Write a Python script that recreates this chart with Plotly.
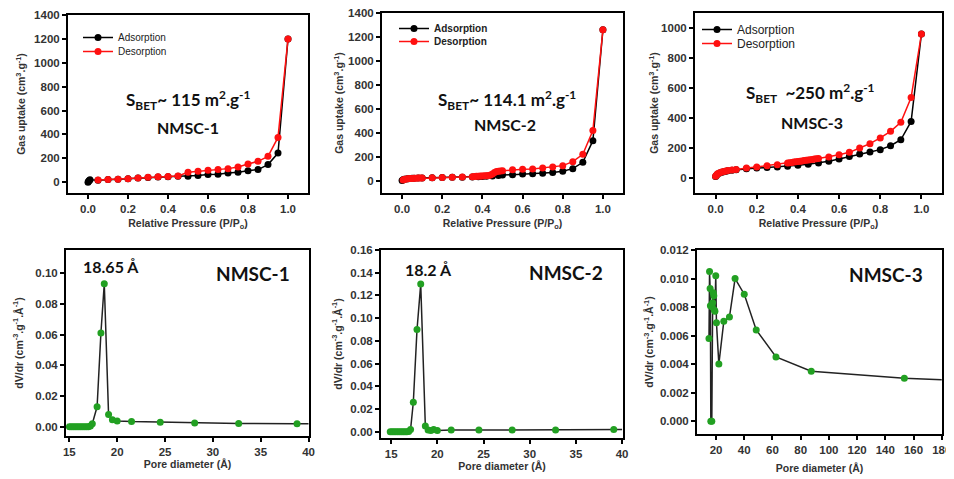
import plotly.graph_objects as go

# ---------------- data ----------------
# NMSC-1 isotherm
p1_ads_x = [0.0, 0.003, 0.006, 0.01, 0.05, 0.1, 0.15, 0.2, 0.25, 0.3, 0.35, 0.4, 0.45, 0.5, 0.55, 0.6, 0.65, 0.7, 0.75, 0.8, 0.85, 0.9, 0.95, 1.0]
p1_ads_y = [0, 8, 15, 20, 17, 22, 26, 30, 36, 40, 44, 47, 50, 50, 56, 64, 67, 78, 83, 97, 106, 148, 244, 1200]
p1_des_x = [1.0, 0.95, 0.9, 0.85, 0.8, 0.75, 0.7, 0.65, 0.6, 0.55, 0.5, 0.45, 0.4, 0.35, 0.3, 0.25, 0.2, 0.15, 0.1, 0.05]
p1_des_y = [1200, 375, 217, 175, 153, 128, 114, 106, 100, 92, 83, 53, 48, 45, 42, 36, 30, 26, 22, 19]

# NMSC-2 isotherm
p2_ads_x = [0.0, 0.005, 0.01, 0.02, 0.03, 0.04, 0.05, 0.06, 0.08, 0.1, 0.15, 0.2, 0.25, 0.3, 0.35, 0.38, 0.4, 0.42, 0.45, 0.48, 0.5, 0.55, 0.6, 0.65, 0.7, 0.75, 0.8, 0.85, 0.9, 0.95, 1.0]
p2_ads_y = [5, 10, 14, 17, 19, 21, 22, 23, 24, 25, 27, 29, 31, 32, 34, 36, 38, 40, 42, 46, 50, 53, 58, 61, 64, 70, 81, 103, 156, 336, 1260]
p2_des_x = [1.0, 0.95, 0.9, 0.85, 0.8, 0.75, 0.7, 0.65, 0.6, 0.55, 0.5, 0.49, 0.48, 0.47, 0.46, 0.45, 0.44, 0.43, 0.42, 0.41, 0.4, 0.39, 0.38, 0.37, 0.36, 0.35, 0.3, 0.25, 0.2, 0.15, 0.1, 0.09, 0.08, 0.07, 0.06, 0.05, 0.04, 0.03, 0.02, 0.01, 0.005]
p2_des_y = [1260, 420, 222, 161, 128, 117, 108, 100, 97, 94, 85, 83, 82, 80, 70, 58, 50, 46, 44, 43, 42, 41, 40, 39, 38, 36, 33, 31, 29, 27, 25, 24, 24, 23, 22, 21, 20, 18, 16, 13, 9]

# NMSC-3 isotherm
p3_ads_x = [0.0, 0.005, 0.01, 0.02, 0.03, 0.04, 0.05, 0.06, 0.08, 0.1, 0.15, 0.2, 0.25, 0.3, 0.35, 0.4, 0.45, 0.5, 0.55, 0.6, 0.65, 0.7, 0.75, 0.8, 0.85, 0.9, 0.95, 1.0]
p3_ads_y = [10, 18, 26, 33, 38, 42, 45, 48, 52, 55, 61, 66, 70, 74, 79, 85, 92, 100, 111, 127, 144, 160, 173, 189, 215, 255, 377, 960]
p3_des_x = [1.0, 0.95, 0.9, 0.85, 0.8, 0.75, 0.7, 0.65, 0.6, 0.55, 0.5, 0.49, 0.48, 0.47, 0.46, 0.45, 0.44, 0.43, 0.42, 0.41, 0.4, 0.39, 0.38, 0.37, 0.36, 0.35, 0.3, 0.25, 0.2, 0.15, 0.1, 0.08, 0.06, 0.05, 0.04, 0.03, 0.02, 0.01, 0.005, 0.0]
p3_des_y = [960, 537, 371, 311, 267, 229, 200, 171, 155, 140, 130, 128, 126, 124, 122, 120, 118, 116, 114, 112, 110, 108, 106, 104, 102, 100, 89, 82, 73, 66, 57, 54, 50, 47, 44, 40, 35, 28, 20, 12]

# Pore size distributions
d1_x = [15.0, 15.2, 15.4, 15.6, 15.8, 16.0, 16.2, 16.4, 16.6, 16.8, 17.0, 17.2, 17.4, 17.9, 18.3, 18.65, 19.1, 19.5, 20.0, 21.5, 24.5, 28.1, 32.7, 38.8]
d1_y = [0, 0, 0, 0, 0, 0, 0, 0, 0, 0, 0, 0.0005, 0.002, 0.013, 0.061, 0.093, 0.008, 0.0045, 0.0038, 0.0034, 0.003, 0.0025, 0.0022, 0.002]
d1_end = (40.0, 0.002)

d2_x = [14.9, 15.1, 15.3, 15.5, 15.7, 15.9, 16.1, 16.3, 16.5, 16.7, 16.9, 17.1, 17.4, 17.8, 18.2, 18.7, 19.0, 19.3, 19.6, 20.0, 21.5, 24.5, 28.1, 32.8, 39.1]
d2_y = [0, 0, 0, 0, 0, 0, 0, 0, 0, 0, 0.0003, 0.002, 0.026, 0.09, 0.13, 0.005, 0.0015, 0.001, 0.002, 0.001, 0.0015, 0.0015, 0.0015, 0.0015, 0.002]
d2_end = (40.0, 0.002)

d3_x = [15.0, 15.4, 15.8, 16.0, 16.3, 17.0, 17.3, 17.6, 18.0, 18.4, 18.8, 19.2, 19.8, 20.3, 22.0, 25.5, 29.5, 33.5, 40.0, 48.5, 62.5, 87.5, 153.5]
d3_y = [0.0058, 0.0105, 0.0093, 0.0081, 0.0, 0.0, 0.008, 0.0083, 0.009, 0.0088, 0.0078, 0.0077, 0.0102, 0.0069, 0.0040, 0.0070, 0.0073, 0.0100, 0.0089, 0.0064, 0.0045, 0.0035, 0.0030]
d3_end = (180.0, 0.0029)

iso_xticks = [0.0, 0.2, 0.4, 0.6, 0.8, 1.0]

# ---------------- figure ----------------
OFF = 8                      # page body margin of the browser
W, H = 954 - OFF, 479 - OFF
fig = go.Figure()

def px(v):
    return (v - OFF) / W

def py(v):
    return 1 - (v - OFF) / H

BLACK = "#000000"
RED = "#ff1010"
GREEN = "#22a022"
TICKFONT = dict(family="Liberation Sans, Arial", size=11.5, color="#333333", weight="bold")
TITLEFONT = dict(family="Liberation Sans, Arial", size=10.5, color="#333333", weight="bold")
ANNFONT = dict(family="Lato, Open Sans", color="#111111", weight="bold")

def style_axis(**kw):
    base = dict(showline=True, linecolor="black", linewidth=2, mirror=True,
                ticks="outside", ticklen=4, tickwidth=1.5, tickcolor="black",
                showgrid=False, zeroline=False, tickfont=TICKFONT,
                title_font=TITLEFONT, automargin=False, ticklabeloverflow="allow")
    base.update(kw)
    return base

# top row isotherms
iso = [
    (p1_ads_x, p1_ads_y, p1_des_x, p1_des_y, "x", "y", "legend", "legend2"),
    (p2_ads_x, p2_ads_y, p2_des_x, p2_des_y, "x2", "y2", "legend3", "legend4"),
    (p3_ads_x, p3_ads_y, p3_des_x, p3_des_y, "x3", "y3", "legend5", "legend6"),
]
for ax_x, ax_y, de_x, de_y, xa, ya, lg1, lg2 in iso:
    fig.add_trace(go.Scatter(x=ax_x, y=ax_y, mode="lines+markers", name="Adsorption",
                             line=dict(color=BLACK, width=1.5), marker=dict(color=BLACK, size=7),
                             xaxis=xa, yaxis=ya, legend=lg1))
    fig.add_trace(go.Scatter(x=de_x, y=de_y, mode="lines+markers", name="Desorption",
                             line=dict(color=RED, width=1.5), marker=dict(color=RED, size=7),
                             xaxis=xa, yaxis=ya, legend=lg2))

# bottom row PSD
psd = [
    (d1_x, d1_y, d1_end, "x4", "y4"),
    (d2_x, d2_y, d2_end, "x5", "y5"),
    (d3_x, d3_y, d3_end, "x6", "y6"),
]
for xs, ys, end, xa, ya in psd:
    fig.add_trace(go.Scatter(x=xs + [end[0]], y=ys + [end[1]], mode="lines",
                             line=dict(color="#222222", width=1.5), showlegend=False,
                             xaxis=xa, yaxis=ya))
    fig.add_trace(go.Scatter(x=xs, y=ys, mode="markers",
                             marker=dict(color=GREEN, size=7), showlegend=False,
                             xaxis=xa, yaxis=ya))

uptake_title = "Gas uptake (cm<sup>3</sup>.g<sup>-1</sup>)"
rp_title = "Relative Pressure (P/P<sub>o</sub>)"
dv_title = "dV/dr (cm<sup>-3</sup>.g<sup>-1</sup>.Å<sup>-1</sup>)"
pd_title = "Pore diameter (Å)"

def leg(x, ytop, size, bold):
    f = dict(family="Liberation Sans, Arial", size=size, color="#222222")
    if bold:
        f["weight"] = "bold"
    return dict(x=px(x), y=py(ytop), xanchor="left", yanchor="top", bgcolor="rgba(0,0,0,0)",
                font=f, itemwidth=30)

fig.update_layout(
    width=W, height=H,
    margin=dict(l=0, r=0, t=0, b=0),
    paper_bgcolor="white", plot_bgcolor="white",
    showlegend=True,
    # top-left
    xaxis=style_axis(domain=[px(68), px(308)], range=[-0.1, 1.1], tickvals=iso_xticks,
                     tickformat=".1f", anchor="y", title=dict(text=rp_title, standoff=6)),
    yaxis=style_axis(domain=[py(193), py(15)], range=[-90, 1400], dtick=200,
                     anchor="x", title=dict(text=uptake_title, standoff=6)),
    # top-middle
    xaxis2=style_axis(domain=[px(382), px(623)], range=[-0.1, 1.1], tickvals=iso_xticks,
                      tickformat=".1f", anchor="y2", title=dict(text=rp_title, standoff=6)),
    yaxis2=style_axis(domain=[py(193), py(13)], range=[-100, 1400], dtick=200,
                      anchor="x2", title=dict(text=uptake_title, standoff=2)),
    # top-right
    xaxis3=style_axis(domain=[px(695), px(942)], range=[-0.1, 1.1], tickvals=iso_xticks,
                      tickformat=".1f", anchor="y3", title=dict(text=rp_title, standoff=6)),
    yaxis3=style_axis(domain=[py(193), py(13)], range=[-100, 1100], dtick=200,
                      anchor="x3", title=dict(text=uptake_title, standoff=0)),
    # bottom-left
    xaxis4=style_axis(domain=[px(66), px(309)], range=[14.65, 40.05], dtick=5,
                      anchor="y4", title=dict(text=pd_title, standoff=4)),
    yaxis4=style_axis(domain=[py(436), py(250)], range=[-0.006, 0.115], dtick=0.02,
                      tickformat=".2f", anchor="x4", title=dict(text=dv_title, standoff=10)),
    # bottom-middle
    xaxis5=style_axis(domain=[px(381), px(623)], range=[13.9, 40.1], dtick=5,
                      anchor="y5", title=dict(text=pd_title, standoff=4)),
    yaxis5=style_axis(domain=[py(438), py(250)], range=[-0.0055, 0.16], dtick=0.02,
                      tickformat=".2f", anchor="x5", title=dict(text=dv_title, standoff=6)),
    # bottom-right
    xaxis6=style_axis(domain=[px(697), px(942)], range=[6.5, 180.2], tickvals=[20, 40, 60, 80, 100, 120, 140, 160, 180],
                      anchor="y6", title=dict(text=pd_title, standoff=10)),
    yaxis6=style_axis(domain=[py(434), py(250)], range=[-0.0009, 0.012], dtick=0.002,
                      tickformat=".3f", anchor="x6", title=dict(text=dv_title, standoff=4)),
    legend=leg(78, 23, 10, False),
    legend2=leg(78, 37, 10, False),
    legend3=leg(394, 14, 10, True),
    legend4=leg(394, 27, 10, True),
    legend5=leg(697, 15, 12, False),
    legend6=leg(697, 29, 12, False),
)

annotations = [
    dict(x=0.5, y=690, xref="x", yref="y", text="S<sub>BET</sub>~ 115 m<sup>2</sup>.g<sup>-1</sup>", size=17),
    dict(x=0.5, y=455, xref="x", yref="y", text="NMSC-1", size=16),
    dict(x=0.52, y=675, xref="x2", yref="y2", text="S<sub>BET</sub>~ 114.1 m<sup>2</sup>.g<sup>-1</sup>", size=17),
    dict(x=0.51, y=467, xref="x2", yref="y2", text="NMSC-2", size=16),
    dict(x=0.46, y=570, xref="x3", yref="y3", text="S<sub>BET</sub>  ~250 m<sup>2</sup>.g<sup>-1</sup>", size=17),
    dict(x=0.47, y=371, xref="x3", yref="y3", text="NMSC-3", size=16),
    dict(x=19.4, y=0.104, xref="x4", yref="y4", text="18.65 Å", size=16),
    dict(x=34.2, y=0.100, xref="x4", yref="y4", text="NMSC-1", size=19),
    dict(x=19.0, y=0.143, xref="x5", yref="y5", text="18.2 Å", size=16),
    dict(x=33.9, y=0.140, xref="x5", yref="y5", text="NMSC-2", size=19),
    dict(x=140.5, y=0.01025, xref="x6", yref="y6", text="NMSC-3", size=19),
]
fig.update_layout(annotations=[
    dict(x=a["x"], y=a["y"], xref=a["xref"], yref=a["yref"], text=a["text"], showarrow=False,
         xanchor="center", yanchor="middle", font=dict(ANNFONT, size=a["size"]))
    for a in annotations
])

fig.write_html("out.html")
